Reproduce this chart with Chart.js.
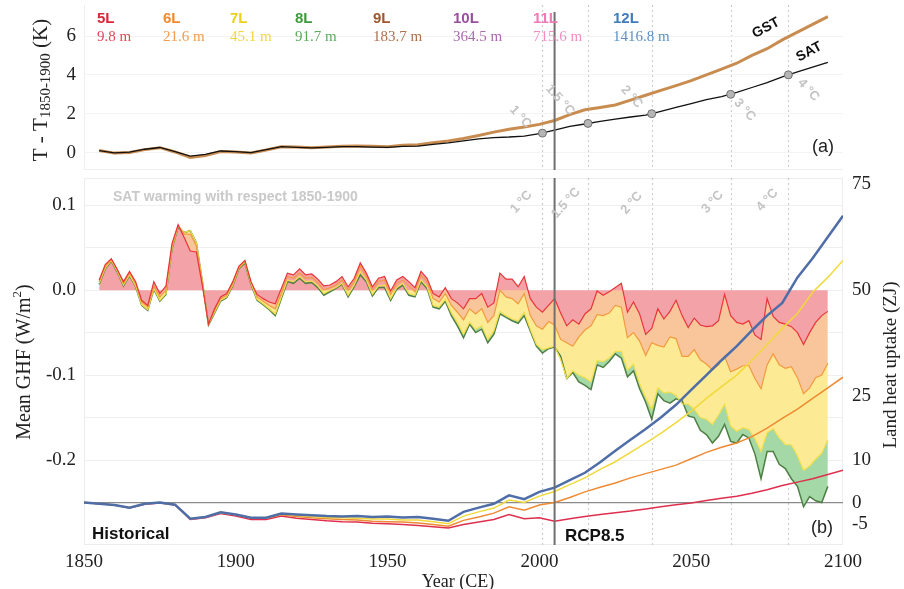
<!DOCTYPE html>
<html>
<head>
<meta charset="utf-8">
<script src="https://cdn.jsdelivr.net/npm/chart.js@4.4.1/dist/chart.umd.min.js"></script>
<style>
  body { margin: 0; background: #fff; }
  #wrap { position: relative; width: 904px; height: 589px; overflow: hidden; }
  #topChart { position: absolute; left: 0; top: 0; }
  #bottomChart { position: absolute; left: 0; top: 175px; }
</style>
</head>
<body>
<div id="wrap">
  <canvas id="topChart" width="904" height="175"></canvas>
  <canvas id="bottomChart" width="904" height="414"></canvas>
</div>
<script>
// ---- years (x categories) ----
const tempYears = [];    // 1855..2095, every 5 yr
for (let y = 1855; y <= 2095; y += 5) tempYears.push(y);
const uptakeYears = [];  // 1850..2100, every 5 yr
for (let y = 1850; y <= 2100; y += 5) uptakeYears.push(y);
const ghfYears = [];     // 1855..2095, every 2 yr
for (let y = 1855; y <= 2095; y += 2) ghfYears.push(y);

// ---- panel (a): warming with respect to 1850-1900 (K) ----
const satAnom = [0.10, -0.02, 0.02, 0.17, 0.26, 0.05, -0.18, -0.10, 0.08, 0.05,
  0.00, 0.15, 0.30, 0.27, 0.24, 0.27, 0.30, 0.30, 0.28, 0.27,
  0.32, 0.33, 0.42, 0.50, 0.60, 0.70, 0.77, 0.80, 0.85, 0.97,
  1.15, 1.35, 1.47, 1.60, 1.72, 1.83, 1.93, 2.12, 2.32, 2.52,
  2.72, 2.88, 3.10, 3.35, 3.60, 3.90, 4.15, 4.40, 4.65];
const gstAnom = [0.10, -0.03, 0.00, 0.15, 0.25, 0.03, -0.25, -0.15, 0.05, 0.03,
  -0.02, 0.13, 0.30, 0.28, 0.25, 0.28, 0.32, 0.33, 0.32, 0.30,
  0.37, 0.40, 0.50, 0.60, 0.72, 0.88, 1.05, 1.20, 1.32, 1.45,
  1.65, 1.95, 2.20, 2.32, 2.45, 2.70, 2.95, 3.20, 3.45, 3.70,
  4.00, 4.30, 4.60, 5.00, 5.35, 5.80, 6.20, 6.60, 7.00];
const crossYears = [2001, 2016, 2037, 2063, 2082];
const crossTemps = [1, 1.5, 2, 3, 4];
const crossLabels = ['1 °C', '1.5 °C', '2 °C', '3 °C', '4 °C'];
const tempTicks = [0, 2, 4, 6];

// ---- panel (b): mean ground heat flux (W/m2) per model depth ----
const ghf5L = [
  0.012, 0.030, 0.037, 0.024, 0.010,  0.022, 0.010, -0.012, -0.018, 0.010,
  -0.004, 0.005, 0.055, 0.077, 0.062,  0.046, 0.045, 0.005, -0.040, -0.022,
  -0.008, -0.004, 0.010, 0.028, 0.035,  0.010, -0.005, -0.010, -0.014, -0.016,
  0.002, 0.020, 0.018, 0.025, 0.018,  0.019, 0.013, 0.005, 0.006, 0.010,
  0.016, 0.004, 0.014, 0.032, 0.020,  0.004, 0.014, 0.016, -0.001, 0.012,
  0.016, 0.010, 0.003, 0.022, 0.014,  -0.004, -0.008, 0.003, -0.010, -0.015,
  -0.022, -0.010, -0.010, -0.004, -0.020,  -0.015, 0.020, 0.013, 0.013, 0.004,
  0.016, -0.010, -0.020, -0.026, -0.018,  -0.010, -0.027, -0.042, -0.035, -0.040,
  -0.028, -0.022, -0.001, -0.006, -0.002,  0.003, 0.008, -0.026, -0.014, -0.028,
  -0.052, -0.045, -0.022, -0.034, -0.025,  -0.012, -0.030, -0.044, -0.033, -0.041,
  -0.043, -0.042, -0.036, -0.005, -0.030,  -0.038, -0.040, -0.036, -0.053, -0.058,
  -0.010, -0.031, -0.038, -0.040, -0.043,  -0.050, -0.064, -0.050, -0.038, -0.030,
  -0.025];
const ghf6L = [
  0.010, 0.028, 0.036, 0.024, 0.008,  0.020, 0.008, -0.014, -0.020, 0.005,
  -0.008, 0.000, 0.052, 0.076, 0.066,  0.066, 0.052, 0.008, -0.040, -0.024,
  -0.010, -0.006, 0.008, 0.027, 0.034,  0.010, -0.008, -0.013, -0.018, -0.022,
  -0.004, 0.016, 0.014, 0.020, 0.014,  0.015, 0.009, 0.000, 0.003, 0.006,
  0.012, 0.000, 0.010, 0.028, 0.016,  0.000, 0.010, 0.012, -0.005, 0.008,
  0.012, 0.005, -0.002, 0.018, 0.010,  -0.010, -0.014, -0.004, -0.018, -0.026,
  -0.035, -0.022, -0.028, -0.022, -0.038,  -0.030, 0.000, -0.008, -0.010, -0.016,
  -0.004, -0.030, -0.042, -0.046, -0.037,  -0.041, -0.058, -0.062, -0.066, -0.055,
  -0.047, -0.042, -0.029, -0.030, -0.027,  -0.018, -0.020, -0.056, -0.050, -0.060,
  -0.077, -0.062, -0.065, -0.067, -0.055,  -0.057, -0.078, -0.078, -0.070, -0.082,
  -0.087, -0.094, -0.088, -0.078, -0.096,  -0.093, -0.089, -0.089, -0.104, -0.116,
  -0.088, -0.075, -0.088, -0.092, -0.090,  -0.103, -0.122, -0.115, -0.103, -0.100,
  -0.086];
const ghf7L = [
  0.008, 0.026, 0.035, 0.022, 0.006,  0.018, 0.005, -0.017, -0.023, 0.002,
  -0.012, -0.004, 0.050, 0.075, 0.068,  0.070, 0.056, 0.010, -0.040, -0.026,
  -0.012, -0.008, 0.006, 0.026, 0.033,  0.008, -0.011, -0.016, -0.022, -0.028,
  -0.008, 0.012, 0.010, 0.016, 0.010,  0.011, 0.005, -0.004, 0.000, 0.003,
  0.008, -0.006, 0.006, 0.022, 0.012,  -0.005, 0.005, 0.006, -0.010, 0.003,
  0.008, -0.004, -0.006, 0.012, 0.004,  -0.018, -0.020, -0.011, -0.027, -0.038,
  -0.052, -0.038, -0.046, -0.042, -0.058,  -0.048, -0.025, -0.030, -0.034, -0.036,
  -0.026, -0.046, -0.064, -0.070, -0.068,  -0.066, -0.082, -0.104, -0.095, -0.100,
  -0.103, -0.108, -0.083, -0.084, -0.080,  -0.072, -0.072, -0.094, -0.087, -0.110,
  -0.126, -0.140, -0.115, -0.121, -0.120,  -0.124, -0.134, -0.134, -0.140, -0.150,
  -0.152, -0.158, -0.147, -0.134, -0.160,  -0.166, -0.162, -0.164, -0.175, -0.190,
  -0.168, -0.163, -0.174, -0.182, -0.182,  -0.195, -0.212, -0.207, -0.199, -0.192,
  -0.176];
const ghf8L = [
  0.007, 0.025, 0.034, 0.021, 0.005,  0.017, 0.004, -0.018, -0.024, 0.001,
  -0.013, -0.005, 0.049, 0.074, 0.068,  0.070, 0.056, 0.010, -0.041, -0.027,
  -0.013, -0.009, 0.005, 0.025, 0.032,  0.007, -0.012, -0.017, -0.023, -0.030,
  -0.010, 0.010, 0.008, 0.014, 0.008,  0.009, 0.003, -0.006, -0.002, 0.002,
  0.007, -0.008, 0.004, 0.018, 0.010,  -0.007, 0.003, 0.003, -0.012, 0.001,
  0.006, -0.006, -0.008, 0.010, 0.002,  -0.020, -0.022, -0.013, -0.030, -0.042,
  -0.056, -0.040, -0.050, -0.046, -0.062,  -0.052, -0.028, -0.032, -0.036, -0.039,
  -0.030, -0.048, -0.066, -0.074, -0.069,  -0.067, -0.078, -0.104, -0.097, -0.108,
  -0.112, -0.117, -0.088, -0.091, -0.084,  -0.075, -0.080, -0.102, -0.095, -0.116,
  -0.132, -0.152, -0.122, -0.130, -0.133,  -0.128, -0.130, -0.148, -0.150, -0.165,
  -0.170, -0.180, -0.172, -0.158, -0.178,  -0.180, -0.170, -0.174, -0.193, -0.222,
  -0.190, -0.190, -0.205, -0.210, -0.222,  -0.231, -0.255, -0.243, -0.248, -0.250,
  -0.231];

// ---- panel (b): land heat uptake (ZJ) ----
const uptake12L = [0, -0.3, -0.6, -1.2, -0.3, 0, -0.5, -3.8, -3.4, -2.3,
  -2.8, -3.6, -3.6, -2.6, -2.8, -3.0, -3.2, -3.3, -3.2, -3.4,
  -3.3, -3.5, -3.4, -3.8, -4.3, -2.2, -1.2, -0.3, 1.7, 0.8,
  2.5, 3.5, 5.3, 7.0, 9.5, 12.2, 14.8, 17.3, 20.0, 23.0,
  26.5, 30.0, 33.5, 36.8, 40.5, 44.0, 47.0, 53.0, 57.5, 62.5, 67.5];
const uptake7L = [0, -0.3, -0.6, -1.2, -0.3, 0, -0.5, -3.8, -3.4, -2.3,
  -2.8, -3.6, -3.6, -2.7, -3.0, -3.3, -3.5, -3.6, -3.7, -3.9,
  -3.9, -4.1, -4.1, -4.5, -5.0, -3.2, -2.2, -1.3, 0.6, 0.0,
  1.5, 2.6, 4.2, 5.8, 7.8, 9.6, 11.8, 14.0, 16.3, 18.8,
  21.5, 24.5, 27.3, 30.0, 33.5, 37.2, 41.0, 44.5, 49.5, 53.0, 57.0];
const uptake6L = [0, -0.3, -0.6, -1.2, -0.3, 0, -0.5, -3.8, -3.4, -2.4,
  -2.9, -3.7, -3.7, -2.9, -3.3, -3.6, -3.8, -4.0, -4.1, -4.4,
  -4.5, -4.6, -4.8, -5.2, -5.6, -4.2, -3.4, -2.5, -1.0, -1.8,
  -0.6, 0.0, 1.2, 2.5, 3.6, 4.6, 5.8, 6.8, 7.8, 8.8,
  10.3, 11.8, 13.0, 14.0, 15.5, 17.5, 19.8, 22.0, 24.5, 27.0, 29.5];
const uptake5L = [0, -0.3, -0.6, -1.3, -0.4, -0.1, -0.6, -4.0, -3.6, -2.6,
  -3.2, -4.0, -4.0, -3.2, -3.7, -4.0, -4.3, -4.5, -4.6, -4.9,
  -5.0, -5.2, -5.4, -5.7, -6.0, -5.2, -4.6, -4.0, -2.8, -3.8,
  -3.6, -4.4, -3.8, -3.3, -2.8, -2.4, -2.0, -1.5, -1.0, -0.5,
  -0.1, 0.5, 1.0, 1.5, 2.2, 3.0, 4.0, 4.8, 5.6, 6.6, 7.6];

// ---- ticks ----
const yearTicks = [1850, 1900, 1950, 2000, 2050, 2100];
const ghfGrid = [-0.25, -0.2, -0.15, -0.1, -0.05, 0, 0.05, 0.1];
const ghfLabels = [-0.2, -0.1, 0, 0.1];
const uptakeTicks = [-5, 0, 10, 25, 50, 75];

// ---- legend ----
const layerNames = ['5L', '6L', '7L', '8L', '9L', '10L', '11L', '12L'];
const layerDepths = ['9.8 m', '21.6 m', '45.1 m', '91.7 m', '183.7 m', '364.5 m', '715.6 m', '1416.8 m'];
const layerColors = ['#d8283a', '#f0892c', '#ecd01e', '#3f9a3f', '#a0562e', '#9a4f9e', '#f07ab6', '#3f7cba'];

const serif = "'Liberation Serif', 'Times New Roman', serif";
const sans = "'Liberation Sans', Arial, sans-serif";
const histEnd = 2005;

function pts(xs, ys) {
  return xs.map((x, i) => ({ x: x, y: ys[i] }));
}

function rotText(ctx, text, x, y, deg, font, color) {
  ctx.save();
  ctx.translate(x, y);
  ctx.rotate(deg * Math.PI / 180);
  ctx.font = font;
  ctx.fillStyle = color;
  ctx.textAlign = 'center';
  ctx.textBaseline = 'middle';
  ctx.fillText(text, 0, 0);
  ctx.restore();
}

function dottedLines(chart) {
  const { ctx, chartArea: a, scales: { x } } = chart;
  ctx.save();
  ctx.strokeStyle = '#cdcdcd';
  ctx.lineWidth = 1.2;
  ctx.setLineDash([2, 3]);
  crossYears.forEach(yr => {
    const px = Math.round(x.getPixelForValue(yr)) + 0.5;
    ctx.beginPath();
    ctx.moveTo(px, a.top);
    ctx.lineTo(px, a.bottom);
    ctx.stroke();
  });
  ctx.restore();
}

function histLine(chart, top, bottom) {
  const { ctx, scales: { x } } = chart;
  const px = x.getPixelForValue(histEnd);
  ctx.save();
  ctx.strokeStyle = '#6f6f6f';
  ctx.lineWidth = 2;
  ctx.beginPath();
  ctx.moveTo(px, top);
  ctx.lineTo(px, bottom);
  ctx.stroke();
  ctx.restore();
}

// ---------- top panel ----------
const topDecor = {
  id: 'topDecor',
  beforeDraw(chart) {
    const { ctx, chartArea: a } = chart;
    ctx.save();
    ctx.strokeStyle = '#eeeeee';
    ctx.lineWidth = 1;
    ctx.beginPath();
    ctx.moveTo(a.left + 0.5, a.top);
    ctx.lineTo(a.left + 0.5, a.bottom - 0.5);
    ctx.lineTo(a.right, a.bottom - 0.5);
    ctx.stroke();
    ctx.restore();
    dottedLines(chart);
  },
  afterDatasetsDraw(chart) {
    histLine(chart, 12, chart.chartArea.bottom);
  },
  afterDraw(chart) {
    const { ctx, scales: { x } } = chart;
    const legendX = [97, 163, 230, 295, 373, 453, 533, 613];
    ctx.save();
    ctx.textBaseline = 'middle';
    ctx.textAlign = 'left';
    layerNames.forEach((n, i) => {
      ctx.fillStyle = layerColors[i];
      ctx.font = 'bold 15px ' + sans;
      ctx.fillText(n, legendX[i], 19);
      ctx.globalAlpha = 0.85;
      ctx.font = '15px ' + serif;
      ctx.fillText(layerDepths[i], legendX[i], 37);
      ctx.globalAlpha = 1;
    });
    ctx.restore();

    // warming thresholds
    const degPos = [[-22, 117], [-28, 100], [-20, 97], [14, 110], [20, 90]];
    crossYears.forEach((yr, i) => {
      rotText(ctx, crossLabels[i], x.getPixelForValue(yr) + degPos[i][0], degPos[i][1], 48,
        'bold 13px ' + sans, '#c4c4c4');
    });

    rotText(ctx, 'GST', 766, 28, -28, 'bold 14px ' + sans, '#111');
    rotText(ctx, 'SAT', 809, 52, -28, 'bold 14px ' + sans, '#111');
    rotText(ctx, '(a)', 823, 147, 0, '18px ' + sans, '#222');

    // y title with subscript
    ctx.save();
    ctx.translate(41, 90);
    ctx.rotate(-Math.PI / 2);
    ctx.fillStyle = '#222';
    ctx.textBaseline = 'middle';
    ctx.textAlign = 'left';
    const big = '21px ' + serif, small = '15px ' + serif;
    ctx.font = big; const w1 = ctx.measureText('T - T').width; const w3 = ctx.measureText(' (K)').width;
    ctx.font = small; const w2 = ctx.measureText('1850-1900').width;
    let cx = -(w1 + w2 + w3) / 2;
    ctx.font = big; ctx.fillText('T - T', cx, 0); cx += w1;
    ctx.font = small; ctx.fillText('1850-1900', cx, 5); cx += w2;
    ctx.font = big; ctx.fillText(' (K)', cx, 0);
    ctx.restore();
  }
};

new Chart(document.getElementById('topChart').getContext('2d'), {
  type: 'line',
  data: {
    datasets: [
      { label: 'SAT thresholds', data: pts(crossYears, crossTemps), showLine: false,
        pointRadius: 4, pointBackgroundColor: '#b5b5b5', pointBorderColor: '#707070', pointBorderWidth: 1 },
      { label: 'SAT', data: pts(tempYears, satAnom), borderColor: '#111111', borderWidth: 1.3, pointRadius: 0 },
      { label: 'GST', data: pts(tempYears, gstAnom), borderColor: '#c98c50', borderWidth: 3, pointRadius: 0 }
    ]
  },
  options: {
    responsive: false,
    animation: false,
    devicePixelRatio: 1,
    layout: { padding: { left: 0, right: 61, top: 4, bottom: 5 } },
    plugins: { legend: { display: false }, tooltip: { enabled: false } },
    scales: {
      x: { type: 'linear', min: 1850, max: 2100, display: false },
      y: {
        min: -0.9, max: 7.6,
        afterBuildTicks: s => { s.ticks = tempTicks.map(v => ({ value: v })); },
        afterFit: s => { s.width = 84; s.paddingTop = 0; s.paddingBottom = 0; },
        ticks: { callback: v => String(v), font: { family: serif, size: 19 }, color: '#222', padding: 8 },
        grid: { color: '#f3f3f3', drawTicks: false },
        border: { display: false }
      }
    }
  },
  plugins: [topDecor]
});

// ---------- bottom panel ----------
const bottomDecor = {
  id: 'bottomDecor',
  beforeDraw(chart) {
    const { ctx, chartArea: a } = chart;
    ctx.save();
    ctx.strokeStyle = '#ececec';
    ctx.lineWidth = 1;
    ctx.strokeRect(a.left + 0.5, a.top + 0.5, a.width - 1, a.height - 1);
    ctx.restore();
    dottedLines(chart);
  },
  afterDatasetsDraw(chart) {
    const a = chart.chartArea;
    histLine(chart, a.top, a.bottom);
  },
  afterDraw(chart) {
    const { ctx, scales: { x } } = chart;
    const degPos = [[-21, 27], [-22, 28], [-20, 28], [-18, 27], [-21, 25]];
    crossYears.forEach((yr, i) => {
      rotText(ctx, crossLabels[i], x.getPixelForValue(yr) + degPos[i][0], degPos[i][1], -48,
        'bold 13px ' + sans, '#c4c4c4');
    });

    ctx.save();
    ctx.textBaseline = 'middle';
    ctx.textAlign = 'left';
    ctx.font = 'bold 14px ' + sans;
    ctx.fillStyle = '#c9c9c9';
    ctx.fillText('SAT warming with respect 1850-1900', 113, 22);
    ctx.font = 'bold 17px ' + sans;
    ctx.fillStyle = '#111';
    ctx.fillText('Historical', 92, 359);
    ctx.fillText('RCP8.5', 565, 361);
    ctx.restore();
    rotText(ctx, '(b)', 822, 353, 0, '18px ' + sans, '#222');
    rotText(ctx, 'Year (CE)', 458, 407, 0, '18px ' + serif, '#222');
    rotText(ctx, 'Land heat uptake (ZJ)', 891, 190, -90, '19px ' + serif, '#222');

    // left title with superscript
    ctx.save();
    ctx.translate(25, 187);
    ctx.rotate(-Math.PI / 2);
    ctx.fillStyle = '#222';
    ctx.textBaseline = 'middle';
    ctx.textAlign = 'left';
    const big = '20px ' + serif, small = '13px ' + serif;
    ctx.font = big; const w1 = ctx.measureText('Mean GHF (W/m').width; const w3 = ctx.measureText(')').width;
    ctx.font = small; const w2 = ctx.measureText('2').width;
    let cx = -(w1 + w2 + w3) / 2;
    ctx.font = big; ctx.fillText('Mean GHF (W/m', cx, 0); cx += w1;
    ctx.font = small; ctx.fillText('2', cx, -7); cx += w2;
    ctx.font = big; ctx.fillText(')', cx, 0);
    ctx.restore();
  }
};

const lineBase = { pointRadius: 0, tension: 0 };

new Chart(document.getElementById('bottomChart').getContext('2d'), {
  type: 'line',
  data: {
    datasets: [
      Object.assign({ label: '12L uptake', data: pts(uptakeYears, uptake12L), yAxisID: 'yR',
        borderColor: '#4f6ea8', borderWidth: 2.5, fill: false }, lineBase),
      Object.assign({ label: '7L uptake', data: pts(uptakeYears, uptake7L), yAxisID: 'yR',
        borderColor: '#f1d93a', borderWidth: 1.5, fill: false }, lineBase),
      Object.assign({ label: '6L uptake', data: pts(uptakeYears, uptake6L), yAxisID: 'yR',
        borderColor: '#ee8a33', borderWidth: 1.5, fill: false }, lineBase),
      Object.assign({ label: '5L uptake', data: pts(uptakeYears, uptake5L), yAxisID: 'yR',
        borderColor: '#df2f4e', borderWidth: 1.5, fill: false }, lineBase),
      Object.assign({ label: '5L GHF', data: pts(ghfYears, ghf5L), yAxisID: 'yL',
        borderColor: '#e8353a', borderWidth: 1.2, fill: 'origin', backgroundColor: '#f3a2a7' }, lineBase),
      Object.assign({ label: '6L GHF', data: pts(ghfYears, ghf6L), yAxisID: 'yL',
        borderColor: '#f29a3e', borderWidth: 1.2, fill: '-1', backgroundColor: '#f9c69c' }, lineBase),
      Object.assign({ label: '7L GHF', data: pts(ghfYears, ghf7L), yAxisID: 'yL',
        borderColor: '#f3df4c', borderWidth: 1.2, fill: '-1', backgroundColor: '#fcea94' }, lineBase),
      Object.assign({ label: '8L GHF', data: pts(ghfYears, ghf8L), yAxisID: 'yL',
        borderColor: '#4f7f45', borderWidth: 1.5, fill: '-1', backgroundColor: '#a4d8a6' }, lineBase)
    ]
  },
  options: {
    responsive: false,
    animation: false,
    devicePixelRatio: 1,
    layout: { padding: { left: 0, right: 0, top: 3, bottom: 0 } },
    plugins: { legend: { display: false }, tooltip: { enabled: false }, filler: { drawTime: 'beforeDatasetsDraw' } },
    scales: {
      x: {
        type: 'linear', min: 1850, max: 2100,
        afterBuildTicks: s => { s.ticks = yearTicks.map(v => ({ value: v })); },
        afterFit: s => { s.height = 44; s.paddingLeft = 0; s.paddingRight = 0; },
        ticks: { callback: v => String(v), font: { family: serif, size: 19 }, color: '#222',
          padding: 6, maxRotation: 0, autoSkip: false },
        grid: { display: false, drawTicks: false },
        border: { display: false }
      },
      yL: {
        position: 'left', min: -0.3, max: 0.132,
        afterBuildTicks: s => { s.ticks = ghfGrid.map(v => ({ value: v })); },
        afterFit: s => { s.width = 84; s.paddingTop = 0; s.paddingBottom = 0; },
        ticks: {
          callback: v => ghfLabels.some(t => Math.abs(t - v) < 1e-9) ? v.toFixed(1) : '',
          font: { family: serif, size: 19 }, color: '#222', padding: 8
        },
        grid: {
          drawTicks: false,
          color: c => Math.abs(c.tick.value + 0.25) < 1e-9 ? '#8a8a8a' : '#efefef',
          lineWidth: c => Math.abs(c.tick.value + 0.25) < 1e-9 ? 1.2 : 1
        },
        border: { display: false }
      },
      yR: {
        position: 'right', min: -10, max: 76.4,
        afterBuildTicks: s => { s.ticks = uptakeTicks.map(v => ({ value: v })); },
        afterFit: s => { s.width = 61; s.paddingTop = 0; s.paddingBottom = 0; },
        ticks: { callback: v => String(v), font: { family: serif, size: 19 }, color: '#222', padding: 9 },
        grid: { display: false, drawTicks: false },
        border: { display: false }
      }
    }
  },
  plugins: [bottomDecor]
});
</script>
</body>
</html>
